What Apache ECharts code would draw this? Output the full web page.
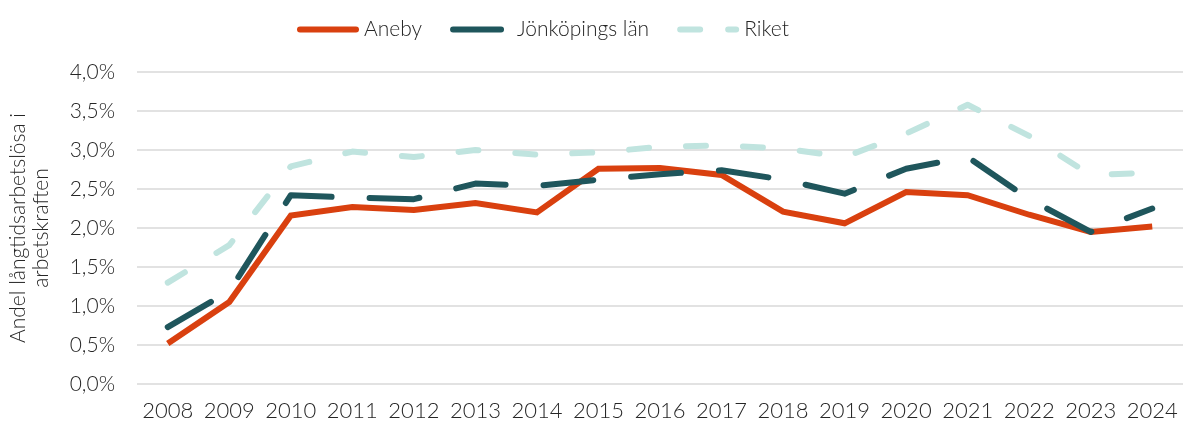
<!DOCTYPE html>
<html>
<head>
<meta charset="utf-8">
<script src="https://cdn.jsdelivr.net/npm/echarts@6/dist/echarts.min.js"></script>
<style>
  html, body { margin: 0; padding: 0; background: #fff; }
  #chart { width: 1186px; height: 423px; }
</style>
</head>
<body>
<div id="chart"></div>
<script>
// år
const years = ['2008', '2009', '2010', '2011', '2012', '2013', '2014', '2015', '2016',
  '2017', '2018', '2019', '2020', '2021', '2022', '2023', '2024']
// andel långtidsarbetslösa (%)
const aneby = [0.52, 1.05, 2.16, 2.27, 2.23, 2.32, 2.20, 2.76, 2.77, 2.68, 2.21, 2.06, 2.46, 2.42, 2.17, 1.95, 2.02]
const jonkoping = [0.73, 1.19, 2.42, 2.39, 2.37, 2.57, 2.54, 2.62, 2.69, 2.74, 2.62, 2.44, 2.76, 2.91, 2.37, 1.95, 2.25]
const riket = [1.30, 1.78, 2.79, 2.98, 2.91, 3.00, 2.94, 2.97, 3.04, 3.06, 3.02, 2.91, 3.21, 3.58, 3.18, 2.68, 2.71]
const seriesNames = ['Aneby', 'Jönköpings län', 'Riket']

const font = 'Lato, "Open Sans", sans-serif'
const textColor = '#262626'

// legendikoner: heldragen, streckad, prickad
const iconSolid = 'path://M3,0 H59 A3,3 0 0 1 59,6 H3 A3,3 0 0 1 3,0 Z'
const iconDash = 'path://M3,0 H51 A3,3 0 0 1 51,6 H3 A3,3 0 0 1 3,0 Z M61.9,3 L62,3'
const iconDot = 'path://M3,0 H23 A3,3 0 0 1 23,6 H3 A3,3 0 0 1 3,0 Z M51,0 H59 A3,3 0 0 1 59,6 H51 A3,3 0 0 1 51,0 Z'

let myChart = echarts.init(document.getElementById('chart'))
let option = {
  animation: false,
  color: ['#D9400F', '#1F565C', '#C0E4DF'],
  grid: {
    left: 137,
    right: 3,
    top: 72,
    bottom: 39,
    outerBoundsMode: 'none'
  },
  legend: {
    top: 14,
    left: 292,
    itemWidth: 62,
    itemHeight: 6,
    itemGap: 28,
    textStyle: { color: textColor, fontSize: 21, fontFamily: font, fontWeight: 300 },
    data: [
      { name: seriesNames[0], icon: iconSolid },
      { name: seriesNames[1], icon: iconDash },
      { name: seriesNames[2], icon: iconDot }
    ]
  },
  xAxis: {
    type: 'category',
    data: years,
    boundaryGap: true,
    axisLine: { show: false },
    axisTick: { show: false },
    axisLabel: {
      interval: 0,
      color: textColor,
      fontSize: 22,
      fontFamily: font,
      fontWeight: 300,
      margin: 16
    }
  },
  yAxis: {
    type: 'value',
    min: 0,
    max: 4,
    interval: 0.5,
    name: 'Andel långtidsarbetslösa i\narbetskraften',
    nameLocation: 'middle',
    nameGap: 84,
    nameTextStyle: {
      color: textColor,
      fontSize: 21,
      fontFamily: font,
      fontWeight: 300,
      lineHeight: 23
    },
    axisLabel: {
      color: textColor,
      fontSize: 21,
      fontFamily: font,
      fontWeight: 300,
      margin: 22,
      formatter: (val) => val.toFixed(1).replace('.', ',') + '%'
    },
    splitLine: {
      show: true,
      lineStyle: { color: '#d9d9d9', width: 1.5 }
    }
  },
  series: [
    {
      name: seriesNames[0],
      type: 'line',
      data: aneby,
      symbol: 'none',
      lineStyle: { width: 6, cap: 'butt', join: 'miter' }
    },
    {
      name: seriesNames[1],
      type: 'line',
      data: jonkoping,
      symbol: 'none',
      lineStyle: { width: 6, type: [50, 38], cap: 'round', join: 'round' }
    },
    {
      name: seriesNames[2],
      type: 'line',
      data: riket,
      symbol: 'none',
      lineStyle: { width: 6, type: [20, 37], cap: 'round', join: 'round' }
    }
  ]
}
myChart.setOption(option)
</script>
</body>
</html>
